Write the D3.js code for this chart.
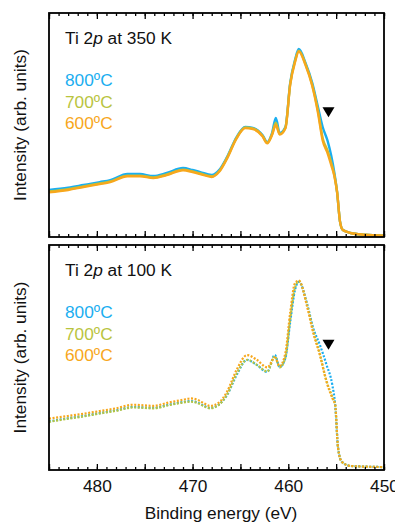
<!DOCTYPE html>
<html>
<head>
<meta charset="utf-8">
<script src="https://cdn.jsdelivr.net/npm/d3@7"></script>
<style>
  body { margin: 0; background: #fff; }
  svg text { font-family: "Liberation Sans", Arial, Helvetica, sans-serif; }
</style>
</head>
<body>
<div id="chart"></div>
<script>
/*
 * Ti 2p XPS spectra, two stacked panels (350 K solid, 100 K dotted).
 */

const WIDTH = 395;
const HEIGHT = 523;
const LEFT = 49;
const RIGHT = 384;
const PANELS = [
  { top: 13, bottom: 237 },
  { top: 245, bottom: 470 }
];
const FONT = 17.3;

const COLOR_800 = '#1aaef0';
const COLOR_700 = '#b9c43e';
const COLOR_600 = '#f7a71c';

// data (binding energy in eV, intensity in arb. units)
const energyHot = [485, 483, 481.4, 479.7, 478.6, 476.8, 475.5, 474.1, 472.7, 471.0, 470.0, 469.2,
  468.0, 467.2, 466.4, 465.4, 464.5, 463.7, 462.7, 462.2, 461.7, 461.3, 460.9, 460.3, 459.8,
  459.3, 458.9, 458.2, 457.5, 456.9, 456.4, 455.9, 455.5, 455.2, 454.9, 454.6, 454.3, 453.5, 452, 450];
const hot800 = [0.21, 0.22, 0.232, 0.245, 0.254, 0.281, 0.281, 0.272, 0.286, 0.308, 0.299, 0.29,
  0.277, 0.30, 0.357, 0.446, 0.491, 0.487, 0.455, 0.424, 0.464, 0.531, 0.464, 0.491, 0.688,
  0.79, 0.839, 0.777, 0.688, 0.58, 0.49, 0.43, 0.36, 0.29, 0.2, 0.07, 0.031, 0.018, 0.01, 0.006];
const hot700 = [0.203, 0.213, 0.226, 0.239, 0.248, 0.274, 0.274, 0.266, 0.279, 0.301, 0.293, 0.284,
  0.271, 0.295, 0.353, 0.443, 0.489, 0.485, 0.452, 0.421, 0.458, 0.51, 0.46, 0.488, 0.684,
  0.785, 0.832, 0.772, 0.68, 0.565, 0.44, 0.385, 0.33, 0.28, 0.2, 0.07, 0.031, 0.018, 0.01, 0.006];
const hot600 = [0.2, 0.21, 0.223, 0.236, 0.245, 0.271, 0.271, 0.263, 0.276, 0.298, 0.29, 0.281,
  0.268, 0.292, 0.35, 0.44, 0.486, 0.482, 0.45, 0.418, 0.455, 0.50, 0.457, 0.485, 0.68,
  0.78, 0.828, 0.768, 0.675, 0.555, 0.43, 0.375, 0.32, 0.275, 0.2, 0.07, 0.031, 0.018, 0.01, 0.006];

const energyCold = [485, 483, 481.4, 479.7, 478, 476.2, 474.1, 472.5, 471.0, 470.2, 469.5, 468.8,
  468.2, 467.3, 466.4, 465.4, 464.3, 463.3, 462.2, 461.4, 460.9, 460.3, 459.8, 459.3, 458.9,
  458.0, 457.4, 456.7, 456.0, 455.4, 455.1, 454.8, 454.4, 453.5, 452, 450];
const cold800 = [0.216, 0.23, 0.24, 0.253, 0.265, 0.28, 0.276, 0.29, 0.302, 0.306, 0.3, 0.285,
  0.276, 0.29, 0.333, 0.422, 0.489, 0.467, 0.436, 0.511, 0.458, 0.498, 0.658, 0.80, 0.836,
  0.733, 0.631, 0.556, 0.467, 0.378, 0.289, 0.098, 0.036, 0.018, 0.015, 0.013];
const cold700 = [0.214, 0.228, 0.238, 0.251, 0.263, 0.278, 0.274, 0.288, 0.3, 0.304, 0.298, 0.283,
  0.274, 0.288, 0.335, 0.428, 0.49, 0.468, 0.438, 0.505, 0.456, 0.5, 0.67, 0.81, 0.838,
  0.728, 0.62, 0.515, 0.395, 0.325, 0.289, 0.098, 0.036, 0.018, 0.015, 0.013];
const cold600 = [0.228, 0.24, 0.25, 0.262, 0.274, 0.29, 0.285, 0.3, 0.312, 0.318, 0.312, 0.296,
  0.285, 0.298, 0.348, 0.445, 0.511, 0.49, 0.456, 0.5, 0.462, 0.52, 0.7, 0.83, 0.842,
  0.72, 0.61, 0.511, 0.391, 0.32, 0.289, 0.098, 0.036, 0.018, 0.015, 0.013];

const temps = ['800ºC', '700ºC', '600ºC'];
const titles = ['350 K', '100 K'];
const xTicks = [480, 470, 460, 450];
const shoulderEnergy = 455.8;
const shoulderLevel = [0.535, 0.535];

const xScale = d3.scaleLinear().domain([485, 450]).range([LEFT, RIGHT]);

const svg = d3.select('#chart')
  .append('svg')
    .attr('width', WIDTH)
    .attr('height', HEIGHT);

const drawPanel = (i, energy, series, dashed) => {
  const p = PANELS[i];
  const yScale = d3.scaleLinear().domain([0, 1]).range([p.bottom, p.top]);
  const g = svg.append('g');

  // spectra
  const line = d3.line()
      .x(d => xScale(d[0]))
      .y(d => yScale(d[1]))
      .curve(d3.curveMonotoneX);
  const colors = [COLOR_800, COLOR_700, COLOR_600];
  series.forEach((vals, k) => {
    g.append('path')
        .attr('d', line(energy.map((e, j) => [e, vals[j]])))
        .attr('fill', 'none')
        .attr('stroke', colors[k])
        .attr('stroke-width', dashed ? 2.2 : 2.4)
        .attr('stroke-dasharray', dashed ? '2,1.6' : null)
        .attr('stroke-linejoin', 'round');
  });

  // shoulder marker
  const tx = xScale(shoulderEnergy);
  const ty = yScale(shoulderLevel[i]);
  g.append('path')
      .attr('d', `M${tx - 6},${ty - 10}L${tx + 6},${ty - 10}L${tx},${ty}Z`)
      .attr('fill', '#000');

  // inward ticks on top and bottom edges
  const minor = d3.range(450, 486, 1);
  const major = d3.range(450, 486, 5);
  [[d3.axisTop, p.top], [d3.axisBottom, p.bottom]].forEach(([axisFn, y]) => {
    g.append('g')
        .attr('transform', `translate(0,${y})`)
        .call(axisFn(xScale).tickValues(minor).tickSize(-3).tickFormat(''))
        .call(a => a.select('.domain').remove());
    g.append('g')
        .attr('transform', `translate(0,${y})`)
        .call(axisFn(xScale).tickValues(major).tickSize(-6).tickFormat(''))
        .call(a => a.select('.domain').remove());
  });
  g.selectAll('.tick line').attr('stroke', '#000').attr('stroke-width', 1.3);

  // frame
  g.append('rect')
      .attr('x', LEFT)
      .attr('y', p.top)
      .attr('width', RIGHT - LEFT)
      .attr('height', p.bottom - p.top)
      .attr('fill', 'none')
      .attr('stroke', '#000')
      .attr('stroke-width', 1.8);

  // title
  const t = g.append('text')
      .attr('x', 65)
      .attr('y', p.top + 31)
      .attr('font-size', FONT)
      .attr('fill', '#111');
  t.append('tspan').text('Ti 2');
  t.append('tspan').attr('font-style', 'italic').text('p');
  t.append('tspan').text(` at ${titles[i]}`);

  // legend
  temps.forEach((label, k) => {
    g.append('text')
        .attr('x', 65)
        .attr('y', p.top + 73 + k * 21.5)
        .attr('font-size', FONT)
        .attr('fill', colors[k])
        .text(label);
  });

  // y label
  const cy = (p.top + p.bottom) / 2;
  g.append('text')
      .attr('transform', `translate(26,${cy}) rotate(-90)`)
      .attr('text-anchor', 'middle')
      .attr('font-size', FONT)
      .attr('fill', '#111')
      .text('Intensity (arb. units)');
};

drawPanel(0, energyHot, [hot800, hot700, hot600], false);
drawPanel(1, energyCold, [cold800, cold700, cold600], true);

// x tick labels and label under the lower panel
svg.append('g')
    .attr('transform', `translate(0,${PANELS[1].bottom})`)
    .call(d3.axisBottom(xScale).tickValues(xTicks).tickSize(0).tickPadding(10))
    .call(a => a.select('.domain').remove())
    .selectAll('text')
      .attr('font-size', FONT)
      .attr('fill', '#111');

svg.append('text')
    .attr('x', 221)
    .attr('y', 519)
    .attr('text-anchor', 'middle')
    .attr('font-size', FONT)
    .attr('fill', '#111')
    .text('Binding energy (eV)');
</script>
</body>
</html>
